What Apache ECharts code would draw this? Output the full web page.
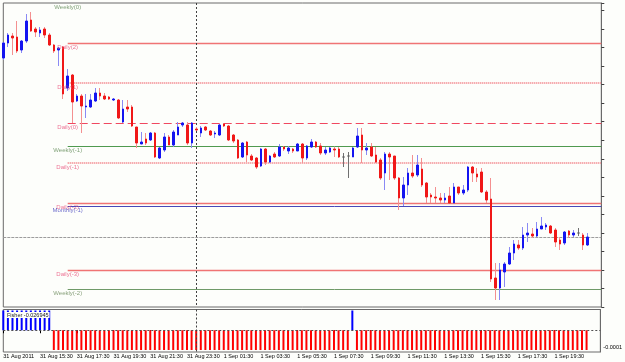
<!DOCTYPE html>
<html><head><meta charset="utf-8">
<script src="https://cdn.jsdelivr.net/npm/echarts@6/dist/echarts.min.js"></script>
<style>html,body{margin:0;padding:0;background:#fdfefb}#c{width:625px;height:362px}</style>
</head><body><div id="c"></div><script>
// ---- data (M15 candles, 31 Aug 2011 13:30 .. 1 Sep 2011 21:15) ----
const open = [1.43245,1.4332,1.43355,1.4335,1.43285,1.4333,1.43435,1.4339,1.4337,1.4339,
1.4336,1.4331,1.43285,1.4330,1.43095,1.4316,1.4303,1.43055,1.4300,1.4300,
1.4303,1.4307,1.43055,1.4305,1.43035,1.43035,1.42925,1.4300,1.4300,1.4290,
1.42815,1.4284,1.42835,1.4287,1.42745,1.42785,1.4285,1.4281,1.4286,1.4291,
1.4291,1.4282,1.4289,1.4287,1.4290,1.4288,1.42865,1.4286,1.42915,1.42905,
1.4286,1.42835,1.4275,1.42825,1.42755,1.42745,1.42705,1.4279,1.42725,1.42765,
1.42755,1.4280,1.4278,1.4279,1.4278,1.42815,1.42745,1.4280,1.42825,1.42805,
1.4277,1.42775,1.4279,1.4279,1.4275,1.42755,1.4275,1.4280,1.4286,1.42785,
1.4280,1.4276,1.42735,1.4267,1.42765,1.42755,1.42645,1.42545,1.4261,1.4267,
1.4266,1.4269,1.4262,1.4256,1.4255,1.42545,1.42535,1.42555,1.4252,1.4260,
1.4257,1.42585,1.4270,1.42665,1.42675,1.42575,1.4254,1.42145,1.42095,1.42175,
1.42215,1.4227,1.4231,1.42295,1.4236,1.42365,1.42355,1.4239,1.4240,1.42405,
1.42385,1.42335,1.4232,1.4238,1.4236,1.4237,1.4236,1.4231];
const close = [1.4332,1.4336,1.43345,1.4328,1.4333,1.4343,1.4338,1.43375,1.43385,1.4336,
1.4331,1.4328,1.43295,1.43065,1.43155,1.43025,1.43055,1.43005,1.43005,1.43035,
1.4307,1.43055,1.4304,1.4304,1.4304,1.42945,1.4299,1.4299,1.42905,1.4282,
1.42825,1.4282,1.4287,1.4275,1.42795,1.4285,1.4281,1.42875,1.4290,1.4292,
1.4282,1.4292,1.42885,1.42895,1.42885,1.4286,1.4287,1.4291,1.42905,1.42835,
1.4283,1.42745,1.4282,1.4276,1.42735,1.4270,1.4279,1.42725,1.42755,1.4275,
1.4280,1.4279,1.42795,1.4278,1.42815,1.42745,1.42805,1.42825,1.4280,1.4277,
1.42785,1.42795,1.42785,1.4275,1.4275,1.42755,1.42795,1.42855,1.42785,1.42795,
1.42755,1.42725,1.42645,1.42765,1.4275,1.42645,1.42545,1.4261,1.4267,1.42655,
1.4271,1.4261,1.4255,1.4255,1.42545,1.42535,1.42545,1.4252,1.4260,1.4257,
1.42585,1.4270,1.4267,1.4265,1.42575,1.42535,1.4214,1.42095,1.42185,1.42215,
1.4227,1.42315,1.42295,1.4236,1.4237,1.42355,1.4239,1.42405,1.4241,1.4237,
1.42325,1.42315,1.42375,1.4236,1.4237,1.4237,1.4231,1.4235];
const high = [1.43325,1.4337,1.4337,1.4343,1.43335,1.43465,1.43475,1.4340,1.4340,1.4340,
1.4337,1.43315,1.4330,1.43305,1.4319,1.43165,1.43065,1.43065,1.43065,1.43065,
1.43095,1.43095,1.4307,1.43055,1.43045,1.4304,1.43035,1.43035,1.4301,1.4290,
1.42875,1.4287,1.42875,1.42875,1.4280,1.4287,1.4286,1.42885,1.42925,1.42925,
1.42925,1.42925,1.4290,1.42905,1.42905,1.42885,1.4288,1.42915,1.4292,1.4291,
1.42865,1.4284,1.42825,1.4283,1.42765,1.4275,1.42795,1.42795,1.4276,1.42775,
1.42815,1.42805,1.42805,1.42795,1.4282,1.4282,1.4281,1.4284,1.4283,1.4282,
1.4280,1.4280,1.4280,1.4280,1.4277,1.42775,1.4280,1.42895,1.42895,1.4282,
1.4282,1.4280,1.42745,1.42775,1.42775,1.42755,1.4265,1.4265,1.42695,1.4276,
1.4276,1.42745,1.42625,1.4257,1.4260,1.4257,1.4257,1.4260,1.4262,1.4260,
1.4261,1.42705,1.42705,1.42695,1.42695,1.42585,1.42645,1.4222,1.4222,1.42225,
1.4230,1.42335,1.42335,1.4240,1.4242,1.42395,1.42425,1.4245,1.4242,1.4241,
1.42395,1.4235,1.4238,1.42385,1.42385,1.42395,1.4237,1.4237];
const low = [1.43235,1.4330,1.4326,1.4327,1.4327,1.4332,1.43375,1.4335,1.4335,1.43345,
1.43305,1.4327,1.43205,1.4304,1.4308,1.4292,1.43025,1.4287,1.42945,1.42995,
1.43025,1.43035,1.43035,1.43035,1.4303,1.4294,1.4292,1.42975,1.4290,1.42795,
1.42815,1.4281,1.4283,1.42745,1.4274,1.42775,1.4281,1.4280,1.4286,1.4290,
1.4281,1.42795,1.4288,1.4285,1.4288,1.42855,1.42845,1.42855,1.4290,1.4283,
1.4282,1.4274,1.42745,1.42725,1.4273,1.4269,1.4270,1.4271,1.4272,1.42745,
1.4275,1.4278,1.42765,1.4277,1.4278,1.4272,1.42735,1.42795,1.42795,1.4276,
1.4276,1.4277,1.4275,1.42745,1.4270,1.42645,1.4275,1.42795,1.4272,1.4276,
1.4275,1.4272,1.42635,1.42585,1.42635,1.42635,1.42485,1.42505,1.4256,1.42645,
1.4265,1.4260,1.4252,1.4252,1.4252,1.4252,1.4252,1.4252,1.4252,1.4256,
1.4256,1.42575,1.42625,1.42625,1.4257,1.4252,1.42125,1.42035,1.42035,1.4210,
1.4221,1.42235,1.42285,1.42285,1.42325,1.42345,1.4235,1.4239,1.42385,1.42365,
1.4230,1.42285,1.4231,1.42345,1.4235,1.42355,1.42285,1.42305];
// Fisher histogram (sign buffer)
const fisher = [0.0001,0.0001,0.0001,0.0001,0.0001,0.0001,0.0001,0.0001,0.0001,0.0001,
0.0001,-0.0001,-0.0001,-0.0001,-0.0001,-0.0001,-0.0001,-0.0001,-0.0001,-0.0001,
-0.0001,-0.0001,-0.0001,-0.0001,-0.0001,-0.0001,-0.0001,-0.0001,-0.0001,-0.0001,
-0.0001,-0.0001,-0.0001,-0.0001,-0.0001,-0.0001,-0.0001,-0.0001,-0.0001,-0.0001,
-0.0001,-0.0001,-0.0001,-0.0001,-0.0001,-0.0001,-0.0001,-0.0001,-0.0001,-0.0001,
-0.0001,-0.0001,-0.0001,-0.0001,-0.0001,-0.0001,-0.0001,-0.0001,-0.0001,-0.0001,
-0.0001,-0.0001,-0.0001,-0.0001,-0.0001,-0.0001,-0.0001,-0.0001,-0.0001,-0.0001,
-0.0001,-0.0001,-0.0001,-0.0001,-0.0001,-0.0001,0.0001,-0.0001,-0.0001,-0.0001,
-0.0001,-0.0001,-0.0001,-0.0001,-0.0001,-0.0001,-0.0001,-0.0001,-0.0001,-0.0001,
-0.0001,-0.0001,-0.0001,-0.0001,-0.0001,-0.0001,-0.0001,-0.0001,-0.0001,-0.0001,
-0.0001,-0.0001,-0.0001,-0.0001,-0.0001,-0.0001,-0.0001,-0.0001,-0.0001,-0.0001,
-0.0001,-0.0001,-0.0001,-0.0001,-0.0001,-0.0001,-0.0001,-0.0001,-0.0001,-0.0001,
-0.0001,-0.0001,-0.0001,-0.0001,-0.0001,-0.0001,-0.0001,-0.0001];
const fisherLabel = 'Fisher -0.026945';
// pivot levels
const levelNames  = ['Weekly(0)','Daily(2)','Daily(1)','Daily(0)','Weekly(-1)','Daily(-1)','Daily(-2)','Monthly(-1)','Daily(-3)','Weekly(-2)'];
const levelValues = [1.4352,1.4332,1.4312,1.4292,1.42805,1.4272,1.4252,1.42505,1.42185,1.4209];
const levelKinds  = ['weekly','daily','dailyDot','dailyDash','weekly','dailyDot','daily','monthly','daily','weekly2'];
const tickLabels = ['31 Aug 2011','31 Aug 15:30','31 Aug 17:30','31 Aug 19:30','31 Aug 21:30','31 Aug 23:30',
 '1 Sep 01:30','1 Sep 03:30','1 Sep 05:30','1 Sep 07:30','1 Sep 09:30','1 Sep 11:30','1 Sep 13:30',
 '1 Sep 15:30','1 Sep 17:30','1 Sep 19:30'];
const daySeparatorIndex = 42;   // 1 Sep 00:00
const levelStartIndex = 14;
const chartShift = 3;           // empty bars to the right

// ---- build ----
function font() { return '"Liberation Sans", Arial, sans-serif'; }
const categories = [];
for (let i = 0; i < open.length + chartShift; i++) {
  const m = 13 * 60 + 30 + i * 15;
  const day = m >= 1440 ? '1 Sep' : '31 Aug';
  const mm = m % 1440;
  categories.push(day + ' ' + String(Math.floor(mm / 60)).padStart(2, '0') + ':' + String(mm % 60).padStart(2, '0'));
}
const lastIdx = categories.length - 1;
const bid = close[close.length - 1];
const wickData = open.map((o, i) => [o, close[i], low[i], high[i]]);
const bodyData = open.map((o, i) => [o, close[i], Math.min(o, close[i]), Math.max(o, close[i])]);

const styleFor = {
  weekly:   {line: {color: '#4f9a4f', type: 'solid', width: 1}, text: '#5f8a55'},
  weekly2:  {line: {color: '#6f9a68', type: 'solid', width: 1}, text: '#6a8a5a'},
  daily:    {line: {color: '#f07474', type: 'solid', width: 1.3}, text: '#e8507a'},
  dailyDot: {line: {color: '#f38a90', type: [1, 1], width: 2}, text: '#e8507a'},
  dailyDash:{line: {color: '#f04860', type: [8, 4], width: 1.2}, text: '#e8507a'},
  monthly:  {line: {color: '#4848b8', type: 'solid', width: 1}, text: '#4a4ac0'}
};
const levelSeries = levelValues.map((v, k) => ({
  type: 'scatter', name: levelNames[k], xAxisIndex: 0, yAxisIndex: 0, symbolSize: 0, silent: true,
  data: [[levelStartIndex, v]],
  label: {show: true, position: 'inside', offset: [0, 4], fontSize: 6, fontFamily: font(),
    color: styleFor[levelKinds[k]].text, formatter: levelNames[k]},
  markLine: k === 0 ? undefined : {silent: true, z: 1, symbol: ['none', 'none'], label: {show: false},
    lineStyle: styleFor[levelKinds[k]].line,
    data: [[{xAxis: levelStartIndex, yAxis: v}, {xAxis: lastIdx, yAxis: v}]]}
}));

const chart = echarts.init(document.getElementById('c'), null, {renderer: 'canvas'});
chart.setOption({
  animation: false,
  backgroundColor: '#fdfefb',
  title: {text: fisherLabel, left: 6, top: 312, padding: [0, 1],
    backgroundColor: '#fdfefb',
    textStyle: {fontSize: 5.5, fontWeight: 'normal', color: '#222', fontFamily: font()}},
  grid: [
    {left: 3.3, top: 3, width: 598, height: 304, show: true, borderColor: '#6a6a6a', borderWidth: 1},
    {left: 3.3, top: 309.5, width: 598, height: 42.5, show: true, borderColor: '#6a6a6a', borderWidth: 1}
  ],
  xAxis: [
    {gridIndex: 0, type: 'category', data: categories, boundaryGap: false,
     axisLine: {show: false}, axisTick: {show: false}, axisLabel: {show: false}, splitLine: {show: false}},
    {gridIndex: 1, type: 'category', data: categories, boundaryGap: false, position: 'bottom',
     axisLine: {show: false},
     axisTick: {show: true, length: 3, interval: (i) => i % 8 === 0 && i <= 120, lineStyle: {color: '#000'}},
     axisLabel: {show: true, interval: (i) => i % 8 === 0 && i <= 120, margin: 1, align: 'left',
       fontSize: 5.5, color: '#000', fontFamily: font(),
       formatter: (v, i) => tickLabels[i / 8] || ''},
     splitLine: {show: false}}
  ],
  yAxis: [
    {gridIndex: 0, type: 'value', position: 'right', min: 1.4200, max: 1.4352, interval: 0.0009265,
     axisLine: {show: true, lineStyle: {color: '#6a6a6a'}},
     axisTick: {show: true, inside: false, length: 3, lineStyle: {color: '#404040'}},
     axisLabel: {show: false}, splitLine: {show: false}},
    {gridIndex: 1, type: 'value', position: 'right', min: -0.00011, max: 0.000105,
     axisLine: {show: true, lineStyle: {color: '#6a6a6a'}},
     axisTick: {show: false},
     axisLabel: {show: true, customValues: [-0.0001], formatter: () => '-0.0001', fontSize: 5.5,
       color: '#000', margin: 3, verticalAlign: 'bottom', fontFamily: font()},
     splitLine: {show: false}}
  ],
  series: levelSeries.concat([
    {type: 'scatter', name: 'bid', xAxisIndex: 0, yAxisIndex: 0, symbolSize: 0, silent: true,
     data: [[lastIdx, bid]],
     markLine: {silent: true, z: 1, symbol: ['none', 'none'], label: {show: false},
       data: [
         [{xAxis: 0, yAxis: bid, lineStyle: {color: '#9c9c9c', type: [3, 1], width: 1}}, {xAxis: lastIdx, yAxis: bid}],
         [{xAxis: daySeparatorIndex, yAxis: 1.4352, lineStyle: {color: '#404040', type: [2, 2], width: 1}},
          {xAxis: daySeparatorIndex, yAxis: 1.4200}]
       ]}},
    {type: 'candlestick', name: 'wick', xAxisIndex: 0, yAxisIndex: 0, data: wickData, barWidth: 1,
     itemStyle: {color: '#8a8af4', color0: '#f49090', borderColor: '#8a8af4', borderColor0: '#f49090',
       borderColorDoji: '#707070', borderWidth: 1}},
    {type: 'candlestick', name: 'body', xAxisIndex: 0, yAxisIndex: 0, data: bodyData, barWidth: 2,
     itemStyle: {color: '#1414f0', color0: '#f01818', borderColor: '#1414f0', borderColor0: '#f01818',
       borderColorDoji: '#606060', borderWidth: 1}},
    {type: 'bar', name: 'Fisher', xAxisIndex: 1, yAxisIndex: 1, data: fisher, barWidth: 2,
     itemStyle: {color: (p) => p.value > 0 ? '#0000ff' : '#ff0000'},
     markLine: {silent: true, symbol: ['none', 'none'], label: {show: false},
       data: [
         [{xAxis: 0, yAxis: 0, lineStyle: {color: '#505050', type: [2, 2], width: 1}}, {xAxis: lastIdx, yAxis: 0}],
         [{xAxis: daySeparatorIndex, yAxis: 0.000105, lineStyle: {color: '#404040', type: [2, 2], width: 1}},
          {xAxis: daySeparatorIndex, yAxis: -0.00011}]
       ]}}
  ])
});
</script></body></html>
